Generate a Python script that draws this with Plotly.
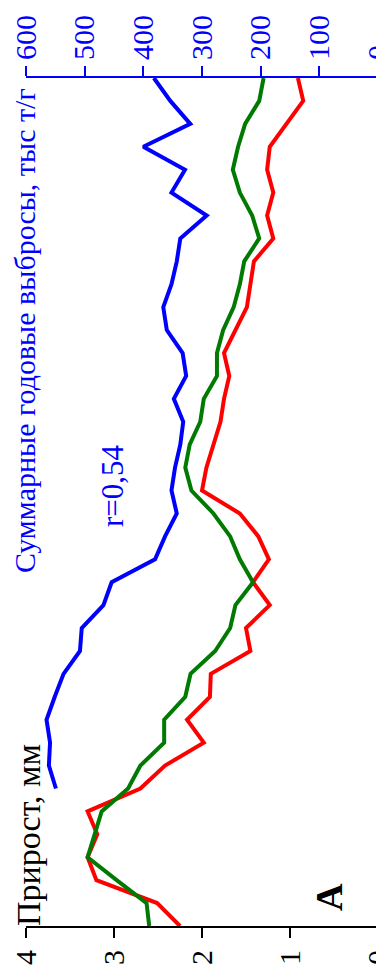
import plotly.graph_objects as go

years = list(range(1970, 2008))
growth_red = [2.25, 2.51, 3.20, 3.30, 3.19, 3.30, 2.70, 2.42, 1.98, 2.17, 1.91, 1.90, 1.45, 1.50,
              1.23, 1.42, 1.24, 1.36, 1.57, 2.00, 1.95, 1.87, 1.79, 1.75, 1.69, 1.75, 1.62, 1.49,
              1.45, 1.41, 1.19, 1.26, 1.19, 1.26, 1.23, 1.04, 0.85, 0.91]
growth_green = [2.60, 2.63, 2.97, 3.30, 3.22, 3.14, 2.84, 2.70, 2.43, 2.43, 2.19, 2.13, 1.85, 1.68,
                1.62, 1.42, 1.57, 1.68, 1.87, 2.12, 2.19, 2.14, 2.02, 1.98, 1.83, 1.83, 1.76, 1.64,
                1.57, 1.52, 1.35, 1.43, 1.57, 1.65, 1.59, 1.51, 1.35, 1.30]
emission_years = years[6:]
emissions = [549, 561, 559, 565, 551, 536, 508, 505, 468, 454, 380, 363, 343, 352, 346, 337,
             332, 348, 327, 333, 360, 366, 352, 343, 337, 292, 352, 329, 400, 320, 354, 382]
growth_ticks = [0, 1, 2, 3, 4]
emission_ticks = [0, 100, 200, 300, 400, 500, 600]

# page body has an 8px default margin; size the figure so it fills the window
OFF = 8
W, H = 384 - OFF, 973 - OFF
L, R, T, B = 26 - OFF, 6, 78 - OFF, 47
PW, PH = W - L - R, H - T - B

def px(x):
    return (x - OFF - L) / PW

def py(y):
    return (H - B - (y - OFF)) / PH

FONT = "Liberation Serif"

fig = go.Figure()
fig.add_trace(go.Scatter(x=growth_red, y=years, mode="lines",
                         line=dict(color="#ff0000", width=4), xaxis="x", yaxis="y"))
fig.add_trace(go.Scatter(x=growth_green, y=years, mode="lines",
                         line=dict(color="#007a00", width=4), xaxis="x", yaxis="y"))
fig.add_trace(go.Scatter(x=emissions, y=emission_years, mode="lines",
                         line=dict(color="#0000ff", width=4), xaxis="x2", yaxis="y"))

fig.update_layout(
    width=W, height=H,
    margin=dict(l=L, r=R, t=T, b=B),
    paper_bgcolor="white", plot_bgcolor="white",
    showlegend=False,
    xaxis=dict(range=[4, 0], tickvals=growth_ticks, ticks="outside", ticklen=10, tickwidth=2,
               tickcolor="black", showline=True, linecolor="black", linewidth=2,
               showgrid=False, zeroline=False, tickangle=-90, automargin=False,
               ticklabeloverflow="allow",
               tickfont=dict(family=FONT, size=30, color="black")),
    xaxis2=dict(range=[600, 0], tickvals=emission_ticks, overlaying="x", side="top",
                ticks="outside", ticklen=10, tickwidth=2, tickcolor="#0000ff",
                showline=True, linecolor="#0000ff", linewidth=2, automargin=False,
                showgrid=False, zeroline=False, tickangle=-90, ticklabeloverflow="allow",
                tickfont=dict(family=FONT, size=30, color="#0000ff")),
    yaxis=dict(range=[years[0], years[-1]], side="right", dtick=1, ticks="outside",
               ticklen=8, tickwidth=1.5, tickcolor="black", showline=True,
               linecolor="black", linewidth=2, showticklabels=False, automargin=False,
               showgrid=False, zeroline=False),
)

ann = [
    dict(text="Прирост, мм", x=px(28), y=py(835), size=34, color="black"),
    dict(text="Суммарные годовые выбросы, тыс т/г", x=px(25), y=py(331), size=30,
         color="#0000ff"),
    dict(text="r=0,54", x=px(112), y=py(486), size=31, color="#0000ff"),
    dict(text="<b>A</b>", x=px(329), y=py(897), size=38, color="black"),
]
for a in ann:
    fig.add_annotation(text=a["text"], x=a["x"], y=a["y"], xref="paper", yref="paper",
                       showarrow=False, textangle=-90, xanchor="center", yanchor="middle",
                       font=dict(family=FONT, size=a["size"], color=a["color"]))

fig.write_html("out.html")
